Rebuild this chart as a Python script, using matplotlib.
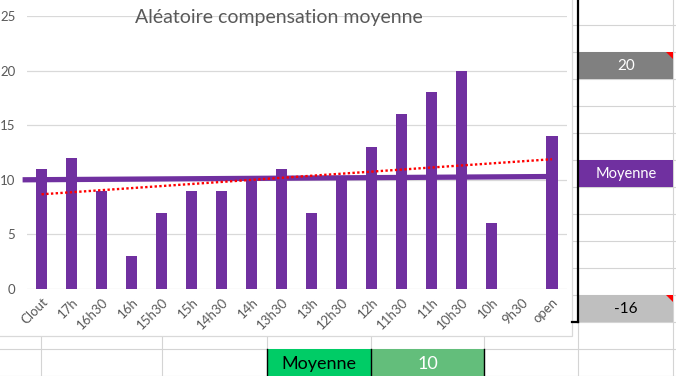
import matplotlib.pyplot as plt
import matplotlib.patches as patches
import numpy as np

plt.rcParams['font.family'] = ['Lato', 'DejaVu Sans']

# Chart data
categories = ['Clout', '17h', '16h30', '16h', '15h30', '15h', '14h30', '14h', '13h30',
              '13h', '12h30', '12h', '11h30', '11h', '10h30', '10h', '9h30', 'open']
values = [11, 12, 9, 3, 7, 9, 9, 10, 11, 7, 10, 13, 16, 18, 20, 6, 0, 14]
mean_line = [10.0, 10.3]  # "moyenne" series, start and end
y_ticks = [0, 5, 10, 15, 20, 25]
title = 'Aléatoire compensation moyenne'

# Spreadsheet cells around the chart
cell_high = '20'
cell_label = 'Moyenne'
cell_low = '-16'
bottom_label = 'Moyenne'
bottom_value = '10'

PURPLE = '#7030A0'
GRID = '#D4D4D4'
W, H = 676, 376

fig = plt.figure(figsize=(W / 100, H / 100), dpi=100)

# background "sheet" axes in pixel coordinates
bg = fig.add_axes([0, 0, 1, 1])
bg.set_xlim(0, W)
bg.set_ylim(H, 0)
bg.axis('off')

# sheet gridlines
for x in [41, 162, 267, 371, 484, 578, 673]:
    bg.plot([x, x], [0, H], color=GRID, lw=0.8, zorder=1)
for y in range(24, H + 1, 27):
    bg.plot([0, W], [y + 0.5, y + 0.5], color=GRID, lw=0.8, zorder=1)

# chart area (white box with light border)
bg.add_patch(patches.Rectangle((-2, -2), 574, 338, facecolor='white',
                               edgecolor='#D9D9D9', lw=0.9, zorder=2))

# coloured cells on the right
def cell(x0, y0, w, h, fc, txt, tc, fs, flag=False):
    bg.add_patch(patches.Rectangle((x0, y0), w, h, facecolor=fc, edgecolor='none', zorder=3))
    bg.text(x0 + w / 2, y0 + h / 2 + 1, txt, color=tc, fontsize=fs,
            ha='center', va='center', zorder=4)
    if flag:
        bg.add_patch(patches.Polygon([[x0 + w - 7, y0], [x0 + w, y0], [x0 + w, y0 + 7]],
                                     closed=True, facecolor='red', edgecolor='none', zorder=4))

cell(579, 51.5, 94, 27, '#808080', cell_high, 'white', 11)
cell(579, 159.5, 94, 27, PURPLE, cell_label, 'white', 10.5)
cell(579, 294.5, 94, 27, '#BFBFBF', cell_low, 'black', 11)
for y0 in [51.5, 294.5]:
    bg.add_patch(patches.Polygon([[666, y0], [673, y0], [673, y0 + 7]], closed=True,
                                 facecolor='red', edgecolor='none', zorder=4))

# black borders
bg.plot([578, 578], [0, 322], color='black', lw=1.6, zorder=5)
bg.plot([572, 578], [322, 322], color='black', lw=1.6, zorder=5)

# bottom cells
cell(267, 349, 104, 28, '#00CC66', bottom_label, 'black', 13)
cell(371, 349, 113, 28, '#63BE7B', bottom_value, 'white', 13)
for x in [267, 371, 484]:
    bg.plot([x, x], [349, H], color='black', lw=1.0, zorder=5)

# the chart itself
ax = fig.add_axes([26.5 / W, 1 - 289 / H, 540.5 / W, 273 / H])
ax.set_facecolor('none')
x = np.arange(len(categories))
ax.bar(x, values, width=0.37, color=PURPLE, zorder=2)

# mean line
ax.plot([-0.63, len(categories) - 1], mean_line, color=PURPLE, lw=3.8,
        solid_capstyle='butt', zorder=3, clip_on=False)

# linear trend line
slope, intercept = np.polyfit(x, values, 1)
ax.plot(x[[0, -1]], intercept + slope * x[[0, -1]], color='red', lw=1.7,
        linestyle=(0, (1, 1)), zorder=4)

ax.set_xlim(-0.5, len(categories) - 0.5)
ax.set_ylim(0, 25)
ax.set_yticks(y_ticks)
ax.yaxis.grid(True, color='#D9D9D9', lw=0.9, zorder=0)
ax.set_axisbelow(True)
for s in ax.spines.values():
    s.set_visible(False)
ax.tick_params(length=0, colors='#595959', labelsize=9.5)
ax.tick_params(axis='y', pad=8)
ax.set_xticks(x)
ax.set_xticklabels(categories, rotation=45, ha='right', rotation_mode='anchor')
ax.tick_params(axis='x', pad=5)

fig.text(279 / W, 1 - 18 / H, title, ha='center', va='center',
         fontsize=14, color='#595959')

fig.savefig('out.png', dpi=100)
